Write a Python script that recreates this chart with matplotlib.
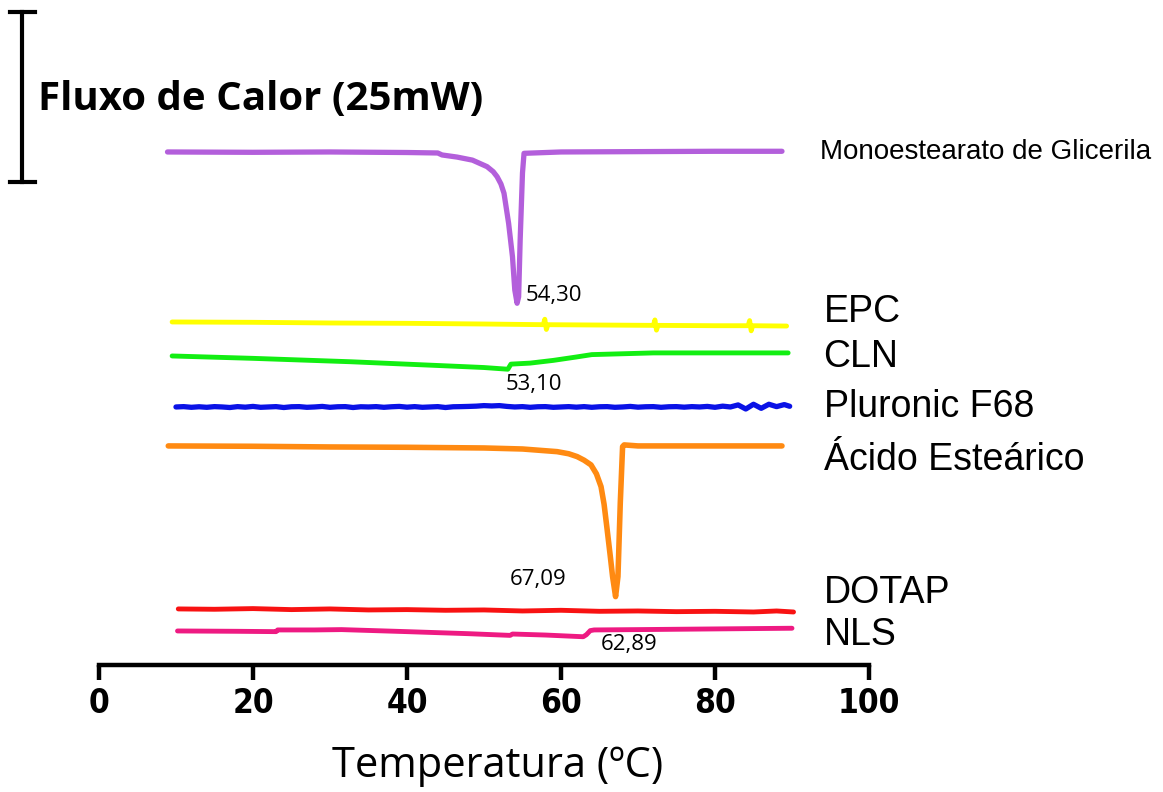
#
# DSC thermograms of the lipid nanoparticle components
#

import matplotlib.pyplot as plt
from matplotlib import font_manager

plt.rcParams.update(
    {
        "font.family": ["Liberation Sans", "DejaVu Sans"],
        "axes.linewidth": 3.2,
    }
)

# temperature (oC) and heat flow relative to each baseline (mW)
t_mono = [8.9, 20.0, 30.0, 40.0, 44.0, 44.55, 46.5, 48.5, 50.4, 51.2, 51.7, 52.2, 52.6, 53.2, 53.7,
          54.0, 54.3, 54.5, 54.7, 55.0, 55.2, 60.0, 70.0, 80.0, 88.7]
q_mono = [0.0, -0.05, 0.0, -0.08, -0.15, -0.44, -0.75, -1.2, -2.16, -2.9, -3.63, -4.7, -6.07, -10.5, -15.4,
          -20.3, -22.25, -21.3, -12.9, -3.1, -0.2, 0.0, 0.05, 0.1, 0.1]

t_epc = [9.5, 20.0, 30.0, 40.0, 50.0, 57.7, 57.9, 58.1, 58.3, 65.0, 72.0, 72.2, 72.4, 72.6,
         80.0, 84.3, 84.5, 84.7, 84.9, 89.3]
q_epc = [0.0, -0.05, -0.15, -0.2, -0.3, -0.4, 0.4, -1.1, -0.4, -0.45, -0.5, 0.3, -1.2, -0.5,
         -0.55, -0.55, 0.2, -1.3, -0.55, -0.6]

t_cln = [9.5, 20.0, 32.7, 45.0, 50.0, 53.1, 53.5, 56.0, 59.0, 62.0, 64.0, 72.0, 80.0, 89.5]
q_cln = [-0.15, -0.5, -1.0, -1.6, -1.85, -2.1, -1.35, -1.2, -0.8, -0.3, 0.05, 0.3, 0.3, 0.3]

t_plu = [10, 11, 12, 13, 14, 15, 16, 17, 18, 19, 20, 21, 22, 23, 24, 25, 26, 27, 28, 29,
         30, 31, 32, 33, 34, 35, 36, 37, 38, 39, 40, 41, 42, 43, 44, 45, 46, 47, 48, 49,
         50, 51, 52, 53, 54, 55, 56, 57, 58, 59, 60, 61, 62, 63, 64, 65, 66, 67, 68, 69,
         70, 71, 72, 73, 74, 75, 76, 77, 78, 79, 80, 81, 82, 83, 84, 85, 86, 87, 88, 89, 89.7]
q_plu = [0.0, 0.05, -0.05, 0.03, -0.05, 0.05, 0.0, -0.08, 0.05, -0.03,
         0.08, -0.05, 0.0, 0.05, -0.08, 0.03, 0.05, -0.05, 0.0, 0.08,
         -0.05, 0.03, 0.05, -0.08, 0.03, 0.0, 0.05, -0.05, 0.03, 0.08,
         -0.03, 0.05, -0.05, 0.0, 0.05, -0.08, 0.03, 0.05, 0.08, 0.12,
         0.2, 0.15, 0.2, 0.08, 0.0, 0.05, -0.05, 0.03, 0.05, -0.05,
         0.0, 0.05, -0.03, 0.05, -0.05, 0.03, 0.05, -0.05, 0.0, 0.08,
         -0.03, 0.03, 0.05, -0.05, 0.03, 0.05, -0.03, 0.05, 0.0, 0.08,
         -0.05, 0.12, 0.0, 0.3, -0.3, 0.4, -0.2, 0.4, 0.05, 0.35, 0.1]

t_est = [9.0, 20.0, 30.0, 40.0, 50.0, 55.0, 59.5, 61.0, 62.1, 63.0, 63.9, 64.6, 65.2, 65.6, 66.0,
         66.4, 66.7, 67.09, 67.4, 67.7, 68.0, 68.2, 70.0, 80.0, 88.7]
q_est = [0.0, -0.05, -0.15, -0.2, -0.3, -0.45, -0.84, -1.15, -1.57, -2.1, -2.79, -4.1, -5.98, -8.6, -12.35,
         -16.2, -19.2, -22.16, -19.2, -8.4, -0.1, 0.15, 0.0, 0.0, 0.0]

t_dot = [10.3, 15, 20, 25, 30, 35, 40, 45, 50, 55, 60, 65, 70, 75, 80, 85, 88, 90.2]
q_dot = [0.0, -0.05, 0.05, -0.1, 0.0, -0.15, -0.1, -0.2, -0.15, -0.3, -0.2, -0.35, -0.3, -0.4,
         -0.35, -0.45, -0.3, -0.45]

t_nls = [10.2, 18.0, 23.0, 23.2, 28.0, 31.5, 40.0, 48.0, 53.4, 53.7, 58.0, 62.89, 63.3, 63.8,
         64.3, 70.0, 80.0, 90.0]
q_nls = [0.0, -0.05, -0.1, 0.15, 0.15, 0.2, -0.1, -0.4, -0.65, -0.45, -0.6, -0.85, -0.55, 0.05,
         0.15, 0.2, 0.3, 0.4]

names = ["Monoestearato de Glicerila", "EPC", "CLN", "Pluronic F68", "Ácido Esteárico", "DOTAP", "NLS"]
temps = [t_mono, t_epc, t_cln, t_plu, t_est, t_dot, t_nls]
flows = [q_mono, q_epc, q_cln, q_plu, q_est, q_dot, q_nls]

# transition temperatures (oC) marked on the curves
peak_mono = 54.30
peak_cln = 53.10
peak_est = 67.09
peak_nls = 62.89

# vertical stacking of the curves and their labels (mW)
offsets = [75.44, 50.44, 45.59, 37.94, 32.21, 8.24, 5.0]
label_y = [75.44, 51.91, 45.29, 37.94, 30.15, 10.59, 4.41]
label_size = [20, 27, 27, 27, 27, 27, 27]
widths = [3.8, 3.5, 3.5, 3.8, 4.0, 3.5, 3.5]
colors = ["#B35FDB", "#FFFF00", "#12EE12", "#0A12E6", "#FF8A12", "#F81212", "#EE1A82"]

fig = plt.figure(figsize=(11.63, 7.92), dpi=100)
ax = fig.add_axes([0.0851, 0.1604, 0.6621, 0.8270])

for t, q, off, c, lw in zip(temps, flows, offsets, colors, widths):
    ax.plot(t, [v + off for v in q], color=c, linewidth=lw, solid_capstyle="round",
            solid_joinstyle="round", clip_on=False)

for name, y, size in zip(names, label_y, label_size):
    x = 93.6 if size < 25 else 94.1
    ax.text(x, y, name, fontsize=size, va="center", ha="left")


def peak_label(t, q, off, tp, dx, dy, ha):
    y = q[t.index(tp)] + off
    ax.annotate("{:.2f}".format(tp).replace(".", ","), xy=(tp, y), xytext=(dx, dy),
                textcoords="offset pixels", fontsize=16, family="Open Sans",
                ha=ha, va="center")


peak_label(t_mono, q_mono, offsets[0], peak_mono, 9, 8, "left")
peak_label(t_cln, q_cln, offsets[2], peak_cln, -2, -15, "left")
peak_label(t_est, q_est, offsets[4], peak_est, -49, 17, "right")
peak_label(t_nls, q_nls, offsets[6], peak_nls, 18, -8, "left")

# 25 mW scale bar
ax.plot([-10.0, -10.0], [71.0, 96.0], color="black", linewidth=3.0, clip_on=False)
ax.plot([-11.6, -8.3], [96.0, 96.0], color="black", linewidth=3.0, clip_on=False)
ax.plot([-11.6, -8.3], [71.0, 71.0], color="black", linewidth=3.0, clip_on=False)
ax.text(-7.9, 83.1, "Fluxo de Calor (25mW)", fontsize=29, fontweight="bold",
        family="Open Sans", va="center", ha="left")

ax.set_xlim(0, 100)
ax.set_ylim(0, 96.32)
ax.set_xticks([0, 20, 40, 60, 80, 100])
for side in ["left", "top", "right"]:
    ax.spines[side].set_visible(False)
ax.set_yticks([])
ax.tick_params(axis="x", direction="out", length=11, width=3.2, pad=5)

tick_font = font_manager.FontProperties(family="DejaVu Sans", weight="bold",
                                        stretch="condensed", size=24)
for lab in ax.get_xticklabels():
    lab.set_fontproperties(tick_font)

ax.set_xlabel("Temperatura (ºC)", fontsize=30, family="Open Sans", x=0.518, labelpad=18)

fig.savefig("out.png", dpi=100)
